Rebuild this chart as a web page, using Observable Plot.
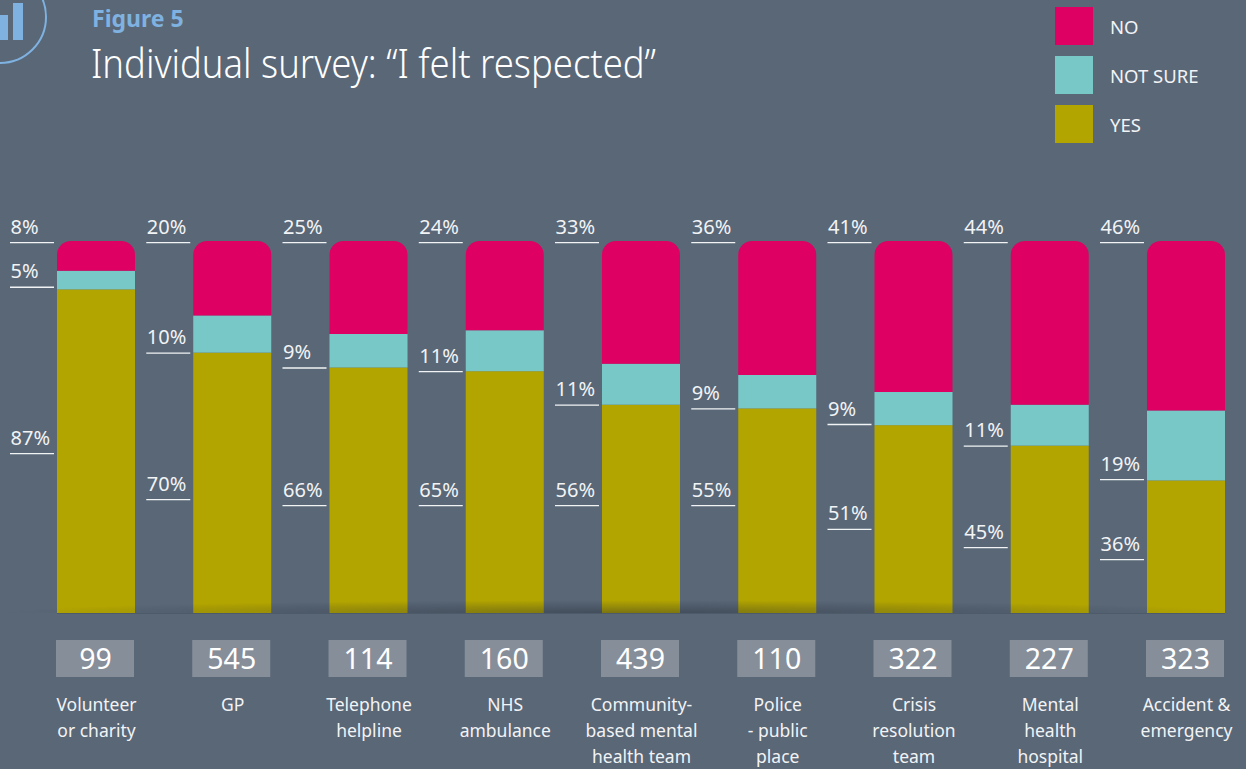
<!DOCTYPE html>
<html><head><meta charset="utf-8">
<script src="https://cdn.jsdelivr.net/npm/d3@7"></script>
<script src="https://cdn.jsdelivr.net/npm/@observablehq/plot@0.6"></script>
<style>
html,body{margin:0;padding:0;background:#596777;width:1246px;height:769px;overflow:hidden;font-family:"Noto Sans",sans-serif;}
#page{position:relative;width:1246px;height:769px;}
#chart{position:absolute;left:0;top:0;}
.abs{position:absolute;white-space:nowrap;}
#fig{left:92px;top:3px;font-size:23px;font-weight:700;color:#7fb2e0;line-height:30px;}
#title{left:91px;top:35px;font-size:41px;font-weight:300;color:#fff;line-height:54px;transform:scaleX(.889);transform-origin:left center;}
.sw{position:absolute;left:1055px;width:38px;height:38px;}
.lg{position:absolute;left:1110px;font-size:18.5px;color:#f2f3f5;line-height:26px;}
#shadow{position:absolute;left:0;top:600px;width:1246px;height:13px;pointer-events:none;
background:radial-gradient(ellipse 50% 100% at 50% 100%,rgba(30,35,45,.38),rgba(30,35,45,0) 100%);}
#icon{position:absolute;left:0;top:0;}
</style></head><body>
<div id="page">
<div id="chart"></div>
<div id="shadow"></div>
<svg id="icon" width="60" height="70"><circle cx="0" cy="17" r="46" fill="none" stroke="#7fb2e0" stroke-width="2"/><rect x="13" y="3" width="10" height="37" fill="#7fb2e0"/><rect x="-4" y="15" width="12" height="25" fill="#7fb2e0"/></svg>
<div class="abs" id="fig">Figure 5</div>
<div class="abs" id="title">Individual survey: “I felt respected”</div>
<div class="sw" style="top:7px;background:#de0063"></div><div class="lg" style="top:14px">NO</div>
<div class="sw" style="top:56px;background:#78c8c8"></div><div class="lg" style="top:63px">NOT SURE</div>
<div class="sw" style="top:105px;background:#b3a500"></div><div class="lg" style="top:112px">YES</div>
</div>
<script>
const services = ["Volunteer\nor charity","GP","Telephone\nhelpline","NHS\nambulance","Community-\nbased mental\nhealth team","Police\n- public\nplace","Crisis\nresolution\nteam","Mental\nhealth\nhospital","Accident &\nemergency"];
const respondents = [99,545,114,160,439,110,322,227,323];
const yesValues = [87,70,66,65,56,55,51,45,36];
const notSureValues = [5,10,9,11,11,9,9,11,19];
const noValues = [8,20,25,24,33,36,41,44,46];
// heights of the leader lines on the share axis
const yesLeader = [0.43,0.306,0.29,0.29,0.29,0.29,0.226,0.177,0.145];
const notSureLeader = [0.877,0.70,0.66,0.65,0.56,0.55,0.508,0.45,0.36];
const noLeader = [0.997,0.997,0.997,0.997,0.997,0.997,0.997,0.997,0.997];
const answers = ["YES","NOT SURE","NO"];
const colours = ["#b3a500","#78c8c8","#de0063"];

const segments = services.flatMap((s,i)=>[
  {service:s,answer:"YES",value:yesValues[i]},
  {service:s,answer:"NOT SURE",value:notSureValues[i]},
  {service:s,answer:"NO",value:noValues[i]}]);
const leaders = services.flatMap((s,i)=>[
  {service:s,at:noLeader[i],label:noValues[i]+"%"},
  {service:s,at:notSureLeader[i],label:notSureValues[i]+"%"},
  {service:s,at:yesLeader[i],label:yesValues[i]+"%"}]);
const columns = services.map((s,i)=>({service:s,n:respondents[i]}));
const stackOpts = {x:"service",y:"value",fill:"answer",order:answers,offset:"normalize"};

const plot = Plot.plot({
  width:1246,height:769,
  marginLeft:57,marginRight:21,marginTop:241,marginBottom:156,
  style:{background:"transparent",fontFamily:'"Noto Sans",sans-serif'},
  x:{domain:services,paddingInner:0.4275,paddingOuter:0,round:false,axis:null},
  y:{domain:[0,1],axis:null},
  color:{domain:answers,range:colours},
  marks:[
    Plot.barY(segments,Plot.filter(d=>d.answer!=="NO",Plot.stackY(stackOpts))),
    Plot.barY(segments,Plot.filter(d=>d.answer==="NO",Plot.stackY({...stackOpts,rx1y1:14,rx2y1:14,rx1y2:0,rx2y2:0}))),
    Plot.ruleY([0],{stroke:"#4d5a69",strokeWidth:1}),
    Plot.tickY(leaders,{x:"service",y:"at",stroke:"#f2f3f5",strokeWidth:1.3,insetRight:34,dx:-47}),
    Plot.text(leaders,{x:"service",y:"at",text:"label",textAnchor:"start",lineAnchor:"bottom",dx:-86,dy:-9,fontSize:20,fill:"#f2f3f5"}),
    Plot.barY(columns,{x:"service",y1:()=>0,y2:()=>0,fill:"#868e9a",insetTop:27,insetBottom:-64,dx:-1}),
    Plot.text(columns,{x:"service",y:()=>0,text:"n",dy:46,dx:-1,fontSize:28.5,fill:"#fff",lineAnchor:"middle"}),
    Plot.text(columns,{x:"service",y:()=>0,text:"service",dy:79,lineAnchor:"top",lineHeight:1.486,fontSize:17.5,fill:"#f2f3f5"})
  ]
});
document.getElementById("chart").appendChild(plot);
</script>
</body></html>
